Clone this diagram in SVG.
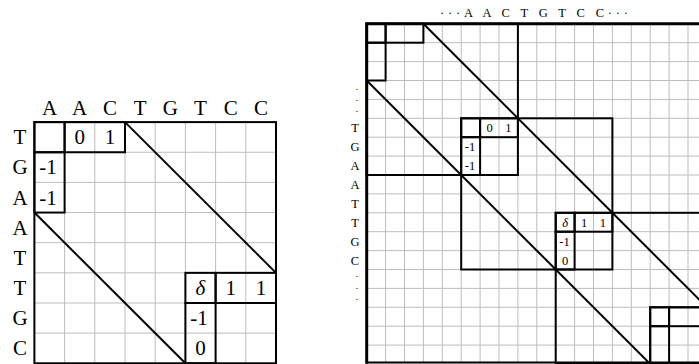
<svg xmlns="http://www.w3.org/2000/svg" width="699" height="364" viewBox="0 0 699 364">
<style>
.grid{stroke:#bdbdbd;stroke-width:1;fill:none}
.thick{stroke:#000;stroke-width:2;fill:none}
.outer{stroke:#000;stroke-width:3;fill:none}
.lbl{font-family:"Liberation Serif","DejaVu Serif",serif;fill:#000}
.big{font-size:21px}
.small{font-size:12.5px}
.mid{text-anchor:middle}
.it{font-style:italic}
.dot{font-family:"DejaVu Sans",sans-serif;font-size:9px;text-anchor:middle;fill:#000}
</style>
<rect x="0" y="0" width="699" height="364" fill="#fff"/>

<!-- Left matrix -->
<g id="left-matrix">
  <g id="left-grid" transform="translate(34.4,122.1)">
    <path class="grid" d="M30.2 0V241.2M60.4 0V241.2M90.6 0V241.2M120.8 0V241.2M151 0V241.2M181.2 0V241.2M211.4 0V241.2M0 30.15H241.6M0 60.3H241.6M0 90.45H241.6M0 120.6H241.6M0 150.75H241.6M0 180.9H241.6M0 211.05H241.6"/>
  </g>
  <g id="left-blocks" transform="translate(34.4,122.1)">
    <rect class="thick" x="0" y="0" width="241.6" height="241.2"/>
    <rect class="thick" x="0" y="0" width="30.2" height="30.15"/>
    <rect class="thick" x="30.2" y="0" width="60.4" height="30.15"/>
    <rect class="thick" x="0" y="30.15" width="30.2" height="60.3"/>
    <rect class="thick" x="151" y="150.75" width="30.2" height="30.15"/>
    <rect class="thick" x="181.2" y="150.75" width="60.4" height="30.15"/>
    <rect class="thick" x="151" y="180.9" width="30.2" height="60.3"/>
  </g>
  <g id="left-col-labels" class="lbl big mid">
    <text x="49.5" y="115">A</text><text x="79.7" y="115">A</text><text x="109.9" y="115">C</text><text x="140.1" y="115">T</text><text x="170.3" y="115">G</text><text x="200.5" y="115">T</text><text x="230.7" y="115">C</text><text x="260.9" y="115">C</text>
  </g>
  <g id="left-row-labels" class="lbl big mid">
    <text x="20" y="144.2">T</text><text x="20" y="174.3">G</text><text x="20" y="204.5">A</text><text x="20" y="234.6">A</text><text x="20" y="264.8">T</text><text x="20" y="294.9">T</text><text x="20" y="325.1">G</text><text x="20" y="355.2">C</text>
  </g>
  <g id="left-cells" class="lbl big mid">
    <text x="79.7" y="144.2">0</text><text x="109.9" y="144.2">1</text>
    <text x="48" y="174.3">-1</text><text x="48" y="204.5">-1</text>
    <text x="200.5" y="294.9" class="it">δ</text><text x="230.7" y="294.9">1</text><text x="260.9" y="294.9">1</text>
    <text x="199" y="325.1">-1</text><text x="200.5" y="355.2">0</text>
  </g>
</g>

<!-- Right matrix -->
<g id="right-matrix">
  <g id="right-grid" transform="translate(366.7,23.8)">
    <path class="grid" d="M18.9 0V339M37.8 0V339M56.7 0V339M75.6 0V339M94.5 0V339M113.4 0V339M132.3 0V339M151.2 0V339M170.1 0V339M189 0V339M207.9 0V339M226.8 0V339M245.7 0V339M264.6 0V339M283.5 0V339M302.4 0V339M321.3 0V339M0 18.9H333M0 37.8H333M0 56.7H333M0 75.6H333M0 94.5H333M0 113.4H333M0 132.3H333M0 151.2H333M0 170.1H333M0 189H333M0 207.9H333M0 226.8H333M0 245.7H333M0 264.6H333M0 283.5H333M0 302.4H333M0 321.3H333"/>
  </g>
  <g id="right-blocks" transform="translate(366.7,23.8)">
    <rect class="thick" x="0" y="0" width="151.2" height="151.2"/>
    <rect class="thick" x="94.5" y="94.5" width="151.2" height="151.2"/>
    <rect class="thick" x="189" y="189" width="151.2" height="151.2"/>
    <rect class="thick" x="283.5" y="283.5" width="151.2" height="151.2"/>
    <rect class="thick" x="0" y="0" width="18.9" height="18.9"/>
    <rect class="thick" x="18.9" y="0" width="37.8" height="18.9"/>
    <rect class="thick" x="0" y="18.9" width="18.9" height="37.8"/>
    <rect class="thick" x="94.5" y="94.5" width="18.9" height="18.9"/>
    <rect class="thick" x="113.4" y="94.5" width="37.8" height="18.9"/>
    <rect class="thick" x="94.5" y="113.4" width="18.9" height="37.8"/>
    <rect class="thick" x="189" y="189" width="18.9" height="18.9"/>
    <rect class="thick" x="207.9" y="189" width="37.8" height="18.9"/>
    <rect class="thick" x="189" y="207.9" width="18.9" height="37.8"/>
    <rect class="thick" x="283.5" y="283.5" width="18.9" height="18.9"/>
    <rect class="thick" x="302.4" y="283.5" width="37.8" height="18.9"/>
    <rect class="thick" x="283.5" y="302.4" width="18.9" height="37.8"/>
    <path class="outer" d="M0 340V0H340"/>
    <path class="thick" d="M0 338.7H340" stroke-width="2.5"/>
  </g>
  <g id="right-top-label" class="lbl small">
    <text x="440" y="17" textLength="188" lengthAdjust="spacing">···A A C T G T C C···</text>
  </g>
  <g id="right-row-labels" class="lbl small mid">
    <text class="dot"><tspan x="357" y="90">.</tspan><tspan x="357" y="101">.</tspan><tspan x="357" y="112">.</tspan></text>
    <text x="355" y="132.2">T</text><text x="355" y="151.1">G</text><text x="355" y="170">A</text><text x="355" y="188.9">A</text><text x="355" y="207.8">T</text><text x="355" y="226.7">T</text><text x="355" y="245.6">G</text><text x="355" y="264.5">C</text>
    <text class="dot"><tspan x="357" y="277">.</tspan><tspan x="357" y="288.5">.</tspan><tspan x="357" y="300">.</tspan></text>
  </g>
  <g id="right-cells" class="lbl small mid">
    <text x="489.55" y="132.2">0</text><text x="508.45" y="132.2">1</text>
    <text x="470" y="151.1">-1</text><text x="470" y="170">-1</text>
    <text x="565.15" y="226.7" class="it">δ</text><text x="584.05" y="226.7">1</text><text x="602.95" y="226.7">1</text>
    <text x="564.5" y="245.6">-1</text><text x="565.15" y="264.5">0</text>
  </g>
</g>

<!-- Connectors (diagonals) -->
<g id="connectors">
  <g transform="translate(34.4,122.1)">
    <line class="thick" x1="90.6" y1="0" x2="241.6" y2="150.75"/>
    <line class="thick" x1="0" y1="90.45" x2="151" y2="241.2"/>
  </g>
  <g transform="translate(366.7,23.8)">
    <line class="thick" x1="56.7" y1="0" x2="400" y2="343.3"/>
    <line class="thick" x1="0" y1="56.7" x2="283.5" y2="340.2"/>
  </g>
</g>
</svg>
